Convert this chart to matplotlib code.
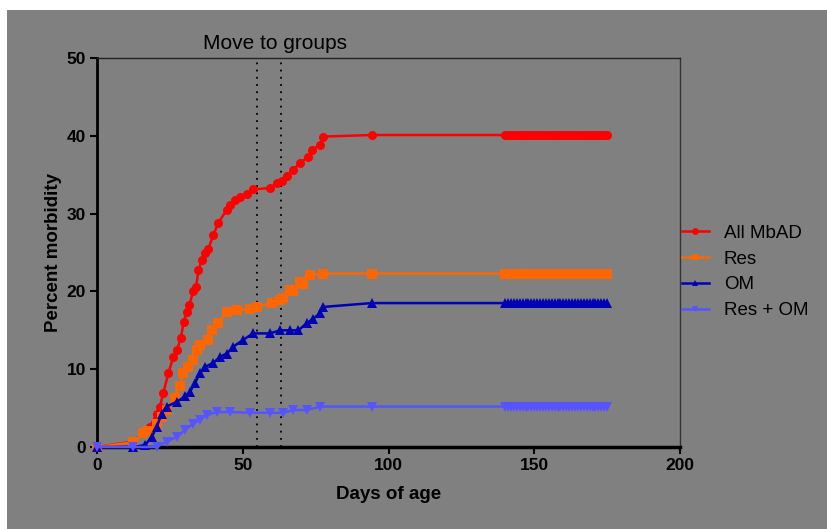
import matplotlib
matplotlib.use("Agg")
import matplotlib.pyplot as plt
from matplotlib.patches import Rectangle

plt.rcParams['font.family'] = ['Liberation Sans', 'DejaVu Sans']

tail_days = list(range(140, 176))

all_days = [0, 12.5, 18.2, 20.5, 21.6, 22.7, 24.5, 26.2, 27.5, 28.7, 29.8, 30.8, 31.7, 33.0, 34.0,
            34.8, 35.9, 37.0, 38.2, 39.9, 41.6, 44.5, 45.6, 47.3, 49.1, 51.4, 53.6, 59.3, 61.6,
            63.5, 65.1, 67.3, 69.6, 72.5, 73.6, 76.5, 77.6, 94.2] + tail_days
all_vals = [0, 0.7, 2.6, 4.3, 5.2, 6.9, 9.5, 11.6, 12.5, 14.0, 16.1, 17.4, 18.3, 20.0, 20.6,
            22.7, 24.0, 24.9, 25.5, 27.2, 28.8, 30.5, 31.1, 31.7, 32.1, 32.5, 33.1, 33.3, 33.9,
            34.2, 34.8, 35.6, 36.5, 37.3, 38.2, 38.8, 39.9, 40.1] + [40.1] * len(tail_days)

res_days = [0, 12.5, 15.9, 17.6, 20.5, 22.2, 23.9, 26.8, 28.5, 29.6, 31.3, 33.0, 34.2, 35.3,
            38.2, 39.3, 41.6, 44.5, 48.0, 52.5, 54.8, 59.9, 62.8, 63.9, 66.2, 67.3, 69.6,
            70.8, 73.1, 77.6, 94.2] + tail_days
res_vals = [0, 0.6, 1.8, 2.0, 3.0, 3.9, 4.8, 6.3, 7.8, 9.5, 10.3, 11.2, 12.5, 13.1,
            13.8, 15.0, 15.9, 17.4, 17.6, 17.8, 18.0, 18.5, 18.9, 19.1, 20.2, 20.0, 21.2,
            21.0, 22.1, 22.3, 22.3] + [22.3] * len(tail_days)

om_days = [0, 12.5, 16.5, 18.8, 20.5, 22.2, 23.9, 27.3, 30.2, 31.9, 33.6, 35.3, 37.0, 39.9,
           42.2, 44.5, 46.8, 50.2, 53.6, 59.3, 62.8, 66.2, 69.1, 71.9, 74.2, 76.5, 77.6,
           94.2] + tail_days
om_vals = [0, 0, 0.25, 1.3, 2.6, 4.3, 5.2, 5.8, 6.5, 7.1, 8.2, 9.5, 10.3, 10.8,
           11.6, 12.0, 12.9, 13.8, 14.6, 14.6, 15.0, 15.0, 15.0, 15.9, 16.5, 17.2, 18.0,
           18.5] + [18.5] * len(tail_days)

resom_days = [0, 12.5, 20.5, 23.9, 27.3, 30.2, 33.0, 35.3, 37.6, 41.0, 45.6, 52.5, 59.3,
              63.9, 67.3, 72.0, 76.5, 94.2] + tail_days
resom_vals = [0, 0, 0, 0.7, 1.3, 2.2, 3.0, 3.5, 4.1, 4.5, 4.5, 4.4, 4.4,
              4.4, 4.75, 4.75, 5.2, 5.2] + [5.2] * len(tail_days)

series = [
    ("All MbAD", all_days, all_vals, "#ff0000", "o"),
    ("Res", res_days, res_vals, "#ff6600", "s"),
    ("OM", om_days, om_vals, "#0000b4", "^"),
    ("Res + OM", resom_days, resom_vals, "#5555ff", "v"),
]

move_days = [55, 63]

W, H = 827, 529
fig = plt.figure(figsize=(W / 100, H / 100), dpi=100, facecolor="#808080")
fig.patches.append(Rectangle((0, 1 - 10 / H), 1, 10 / H, transform=fig.transFigure,
                             facecolor="white", edgecolor="none"))
fig.patches.append(Rectangle((0, 0), 7 / W, 1, transform=fig.transFigure,
                             facecolor="white", edgecolor="none"))

ax = fig.add_axes([97 / W, 1 - 447 / H, (680 - 97) / W, (447 - 58) / H])
ax.set_facecolor("#808080")

for label, d, v, c, m in series:
    ax.plot(d, v, color=c, marker=m, markersize=6.5, linewidth=1.8, label=label,
            markeredgewidth=0, clip_on=False, zorder=3)

for xd in move_days:
    ax.axvline(xd, color="black", linestyle=(0, (1, 3)), linewidth=1.3, zorder=2)

ax.text(60.9, 50.6, "Move to groups", ha="center", va="bottom", fontsize=15)

ax.set_xlim(0, 200)
ax.set_ylim(0, 50)
ax.set_xticks([0, 50, 100, 150, 200])
ax.set_yticks([0, 10, 20, 30, 40, 50])
for lab in ax.get_xticklabels() + ax.get_yticklabels():
    lab.set_fontweight("bold")
ax.tick_params(axis="both", direction="out", length=5, width=1.5, labelsize=12.5, pad=3)
ax.tick_params(top=False, right=False)
ax.spines["left"].set_linewidth(2)
ax.spines["bottom"].set_linewidth(2.5)
ax.spines["top"].set_linewidth(1)
ax.spines["right"].set_linewidth(1)
for s in ax.spines.values():
    s.set_color("black")
ax.spines["top"].set_color("#222222")
ax.spines["right"].set_color("#333333")

ax.set_xlabel("Days of age", fontsize=13.5, fontweight="bold", labelpad=9)
ax.set_ylabel("Percent morbidity", fontsize=13.5, fontweight="bold", labelpad=3)

leg = ax.legend(loc="center left", bbox_to_anchor=(1.003, 0.45), frameon=False, fontsize=13.5,
                handlelength=1.45, handletextpad=0.8, markerscale=0.75, labelspacing=0.47,
                borderaxespad=0, borderpad=0)

fig.savefig("out.png", dpi=100, facecolor=fig.get_facecolor())
